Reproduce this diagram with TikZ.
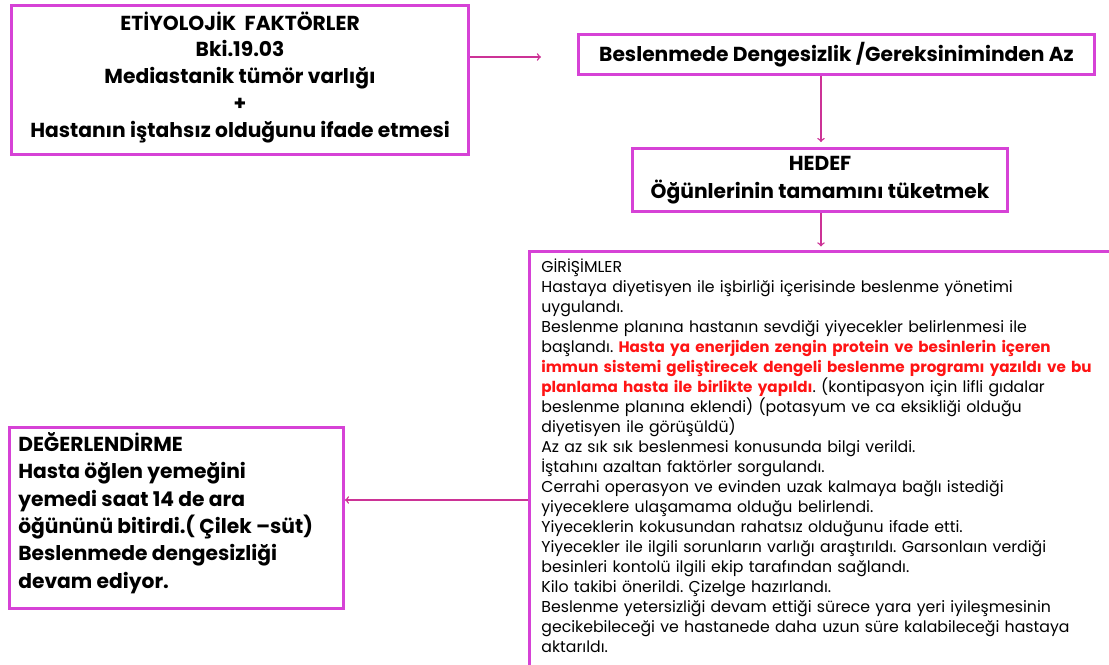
\documentclass[tikz,border=0pt]{standalone}
\usepackage{xcolor}
\usepackage{tikz}
\usepackage{fontspec}
\setmainfont{Poppins}
\usetikzlibrary{positioning,shapes,arrows}
\definecolor{kutumor}{RGB}{214,66,214}
\definecolor{okpembe}{RGB}{204,51,150}
\definecolor{kirmizi}{RGB}{255,20,20}
\frenchspacing

\begin{document}
\begin{tikzpicture}[x=0.025cm, y=-0.025cm,
			kutu/.style = {draw=kutumor, line width=2pt, rectangle,
				anchor=north west, inner sep=0pt},
			baslik/.style = {kutu, align=center, font=\bfseries\fontsize{14.4}{19.5}\selectfont},
			ok/.style = {draw=okpembe, line width=1pt, ->}]
			\clip (0,0) rectangle (1109,664);
			\useasboundingbox (0,0) rectangle (1109,664);
			\node[baslik, minimum width=11.43cm, minimum height=3.73cm, text depth=8pt,
				font=\bfseries\fontsize{14.4}{19}\selectfont] (etiyoloji) at (10,4)
			{ET\.IYOLOJ\.IK\ \ FAKTÖRLER\\
				Bki.19.03\\
				Mediastanik tümör varlığı\\
				+\\
				Hastanın iştahsız olduğunu ifade etmesi};
			\node[baslik, minimum width=12.9cm, minimum height=1.0cm] (beslenme) at (577,33)
			{Beslenmede Dengesizlik /Gereksiniminden Az};
			\node[baslik, minimum width=9.38cm, minimum height=1.58cm,
				font=\bfseries\fontsize{14.4}{20}\selectfont] (hedef) at (631,147)
			{HEDEF\\
				Öğünlerinin tamamını tüketmek};
			\node[kutu, align=left, text width=15cm, inner xsep=8.5pt, inner ysep=5pt,
				font=\fontsize{11.2}{14.25}\selectfont] (girisim) at (528,250)
			{G\.IR\.I\c S\.IMLER\\
				Hastaya diyetisyen ile işbirliği içerisinde beslenme yönetimi\\
				uygulandı.\\
				Beslenme planına hastanın sevdiği yiyecekler belirlenmesi ile\\
				başlandı. {\color{kirmizi}\bfseries\fontsize{10.8}{14.25}\selectfont Hasta ya enerjiden zengin protein ve besinlerin içeren}\\
				{\color{kirmizi}\bfseries\fontsize{10.8}{14.25}\selectfont immun sistemi geliştirecek dengeli beslenme programı yazıldı ve bu}\\
				{\color{kirmizi}\bfseries\fontsize{10.8}{14.25}\selectfont planlama hasta ile birlikte yapıldı}. (kontipasyon için lifli gıdalar\\
				beslenme planına eklendi) (potasyum ve ca eksikliği olduğu\\
				diyetisyen ile görüşüldü)\\
				Az az sık sık beslenmesi konusunda bilgi verildi.\\
				\.Iştahını azaltan faktörler sorgulandı.\\
				Cerrahi operasyon ve evinden uzak kalmaya bağlı istediği\\
				yiyeceklere ulaşamama olduğu belirlendi.\\
				Yiyeceklerin kokusundan rahatsız olduğunu ifade etti.\\
				Yiyecekler ile ilgili sorunların varlığı araştırıldı. Garsonlaın verdiği\\
				besinleri kontolü ilgili ekip tarafından sağlandı.\\
				Kilo takibi önerildi. Çizelge hazırlandı.\\
				Beslenme yetersizliği devam ettiği sürece yara yeri iyileşmesinin\\
				gecikebileceği ve hastanede daha uzun süre kalabileceği hastaya\\
				aktarıldı.\\
				\mbox{}\\
				\mbox{}};
			\node[kutu, minimum width=8.35cm, minimum height=4.53cm] (degerlendirme) at (8,426) {};
			\node[anchor=north west, align=left, inner sep=0pt,
				font=\bfseries\fontsize{14.4}{19.5}\selectfont] (degmetin) at (18,432)
			{DEĞERLEND\.IRME\\
				Hasta öğlen yemeğini\\
				yemedi saat 14 de ara\\
				öğününü bitirdi.( Çilek –süt)\\
				Beslenmede dengesizliği\\
				devam ediyor.};
			\coordinate (ok1uc) at (541,57);
			\coordinate (ok5bas) at (528,500);
			\draw[ok] (etiyoloji.east |- ok1uc) -- (ok1uc);
			\draw[ok, shorten >=3.5pt] (beslenme.south -| 821,0) -- (hedef.north -| 821,0);
			\draw[ok, shorten >=2.5pt] (hedef.south -| 821,0) -- (girisim.north -| 821,0);
			\draw[ok] (ok5bas) -- (degerlendirme.east |- ok5bas);
		\end{tikzpicture}
\end{document}
